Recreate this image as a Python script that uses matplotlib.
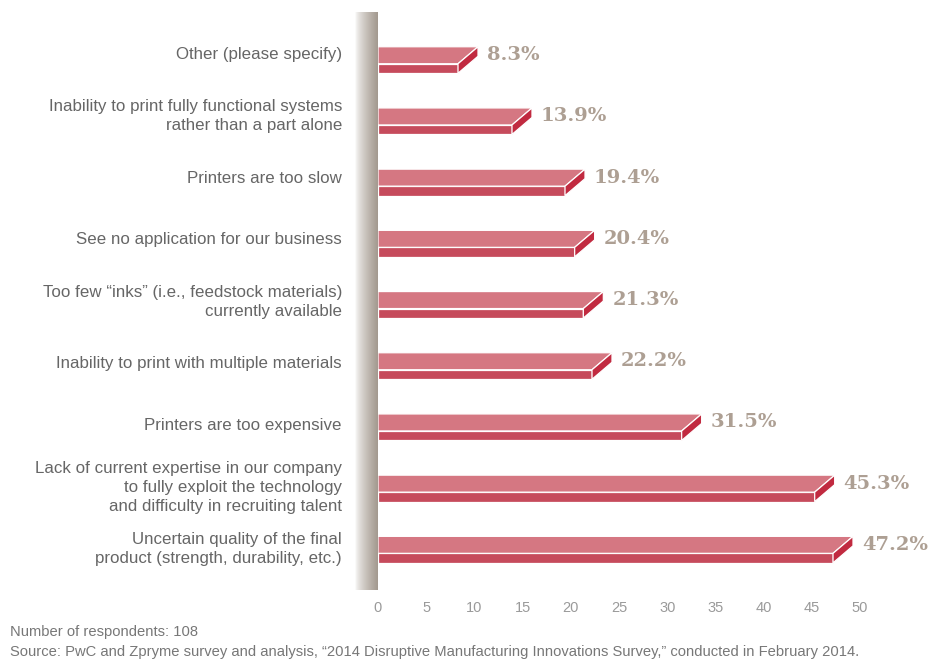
import numpy as np
import matplotlib
matplotlib.use("Agg")
import matplotlib.pyplot as plt
from matplotlib.patches import Polygon

labels = [
    "Other (please specify)",
    "Inability to print fully functional systems\nrather than a part alone",
    "Printers are too slow",
    "See no application for our business",
    "Too few \u201cinks\u201d (i.e., feedstock materials)\ncurrently available",
    "Inability to print with multiple materials",
    "Printers are too expensive",
    "Lack of current expertise in our company\nto fully exploit the technology\nand difficulty in recruiting talent",
    "Uncertain quality of the final\nproduct (strength, durability, etc.)",
]
values = [8.3, 13.9, 19.4, 20.4, 21.3, 22.2, 31.5, 45.3, 47.2]
xticks = [0, 5, 10, 15, 20, 25, 30, 35, 40, 45, 50]
respondents = "Number of respondents: 108"
source = ("Source: PwC and Zpryme survey and analysis, \u201c2014 Disruptive Manufacturing "
          "Innovations Survey,\u201d conducted in February 2014.")

plt.rcParams['font.family'] = ['Liberation Sans', 'DejaVu Sans']

W, H = 932, 661
fig = plt.figure(figsize=(W / 100, H / 100), dpi=100)

# axes in pixel terms: x=0 at px 378, x=50 at px 860; rows 61.2 px apart
ax_l, ax_r = 378, 900
ax_t, ax_b = 12, 590
ax = fig.add_axes([ax_l / W, 1 - ax_b / H, (ax_r - ax_l) / W, (ax_b - ax_t) / H])
px_per_x = (860 - 378) / 50.0
xmax = (ax_r - ax_l) / px_per_x
row_px = 61.2
y0_px = 68.5
ax.set_xlim(0, xmax)
ax.set_ylim((ax_b - y0_px) / row_px, -(y0_px - ax_t) / row_px)

front_h = 9.5 / row_px
dx = 20 / px_per_x
dy = 17 / row_px

top_c = "#d57782"
front_c = "#c64b5c"
side_c = "#c12a40"

for i, v in enumerate(values):
    yt = i - front_h / 2
    yb = i + front_h / 2
    front = Polygon([(0, yt), (v, yt), (v, yb), (0, yb)], closed=True,
                    facecolor=front_c, edgecolor="white", lw=0.9)
    top = Polygon([(0, yt - dy), (v + dx, yt - dy), (v, yt), (0, yt)], closed=True,
                  facecolor=top_c, edgecolor="white", lw=0.9)
    side = Polygon([(v, yt), (v + dx, yt - dy), (v + dx, yb - dy), (v, yb)], closed=True,
                   facecolor=side_c, edgecolor="white", lw=0.9)
    for p in (front, top, side):
        ax.add_patch(p)
    ax.text(v + dx + 9 / px_per_x, yt - dy * 0.5, f"{v}%", ha="left", va="center",
            fontsize=14, fontweight="bold", family="DejaVu Serif", color="#ad9f93")

for s in ax.spines.values():
    s.set_visible(False)
ax.set_yticks([])
ax.set_xticks(xticks)
ax.set_xticklabels([str(t) for t in xticks])
ax.tick_params(axis="x", length=0, pad=8, labelsize=10.5, labelcolor="#9a9a9a")

# category labels to the left of the wall
for i, lab in enumerate(labels):
    y_px = 54.5 + i * 61.8
    fig.text(342 / W, 1 - y_px / H, lab, ha="right", va="center",
             fontsize=12.2, color="#666666", linespacing=1.33)

# shaded wall behind the bars
wall = fig.add_axes([355 / W, 1 - 590 / H, 23 / W, 578 / H])
grad = np.linspace(0, 1, 64)[None, :]
light = np.array([1.0, 1.0, 1.0])
dark = np.array([0.64, 0.60, 0.56])
img = light[None, None, :] * (1 - grad[..., None] ** 0.7) + dark[None, None, :] * grad[..., None] ** 0.7
wall.imshow(img, aspect="auto", extent=(0, 1, 0, 1))
wall.set_axis_off()

fig.text(10 / W, 1 - 632 / H, respondents, ha="left", va="center", fontsize=10.6, color="#777777")
fig.text(10 / W, 1 - 652 / H, source, ha="left", va="center", fontsize=10.6, color="#777777")

fig.savefig("out.png", dpi=100)
